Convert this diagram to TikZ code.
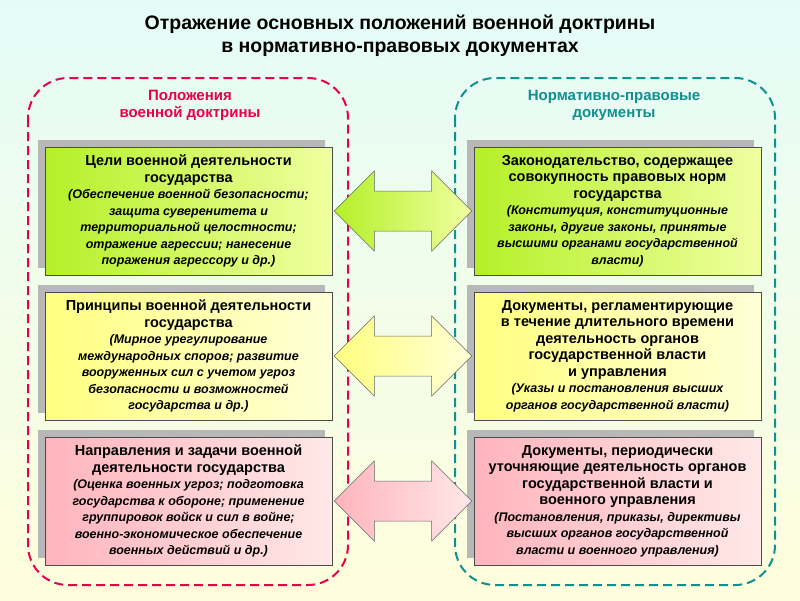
\documentclass[tikz,border=0pt]{standalone}
\usepackage{fontspec}
\setmainfont{Liberation Sans}
\usetikzlibrary{calc}
\definecolor{gA}{HTML}{B4F028}\definecolor{gB}{HTML}{F0FFA0}
\definecolor{yA}{HTML}{FFFF80}\definecolor{yB}{HTML}{FFFFD8}
\definecolor{pA}{HTML}{FFB4BC}\definecolor{pB}{HTML}{FFE8E8}
\definecolor{redh}{HTML}{E8004C}\definecolor{teal}{HTML}{109090}
\definecolor{bgA}{HTML}{E4FCF8}\definecolor{bgB}{HTML}{FFFEDC}
\tikzset{
 box/.style={draw=black!70,line width=0.6pt,minimum width=287pt,minimum height=128pt,align=center,inner sep=2pt,font=\fontsize{14.5}{16.5}\selectfont\bfseries},
 gbox/.style={box,left color=gA,right color=gB},
 ybox/.style={box,left color=yA,right color=yB},
 pbox/.style={box,left color=pA,right color=pB},
 darr/.style={draw=black!60,line width=0.5pt}
}
\newcommand{\sm}[1]{{\fontsize{12.5}{15}\selectfont\bfseries\itshape #1}}
\newcommand{\dblarrow}[4]{%
 \draw[darr,left color=#3,right color=#4] ($(#1.east)+(2,0)$) -- ++(40,-40) -- ++(0,20) coordinate (t1)
  -- ($(#2.west)+(-42,-20)$) -- ++(0,-20) -- ($(#2.west)+(-2,0)$) -- ++(-40,40) -- ++(0,-20)
  -- ($(#1.east)+(42,20)$) -- ++(0,20) -- cycle;}
\begin{document}
\begin{tikzpicture}[x=1pt,y=-1pt]
\useasboundingbox (0,0) rectangle (800,600);
\shade[top color=bgA,bottom color=bgB] (0,0) rectangle (800,600);
\node[font=\fontsize{19.5}{23}\selectfont\bfseries,align=center] (title) at (400,36) {Отражение основных положений военной доктрины\\в нормативно-правовых документах};
\draw[redh,line width=2pt,dash pattern=on 9pt off 5pt,rounded corners=40pt] (28,78) rectangle (348,585);
\draw[teal,line width=2pt,dash pattern=on 9pt off 5pt,rounded corners=40pt] (455,78) rectangle (775,585);
\node[text=redh,font=\fontsize{15}{17}\selectfont\bfseries,align=center] (hl) at (190,105) {Положения\\военной доктрины};
\node[text=teal,font=\fontsize{15}{17}\selectfont\bfseries,align=center] (hr) at (614,105) {Нормативно-правовые\\документы};
\foreach \x/\y in {38/140,38/285,38/430,467/140,467/285,467/430}{\fill[black!28] (\x,\y) rectangle ++(287,128);}
\node[gbox] (l1) at (188.5,211) {Цели военной деятельности\\государства\\\sm{(Обеспечение военной безопасности;}\\\sm{защита суверенитета и}\\\sm{территориальной целостности;}\\\sm{отражение агрессии;  нанесение}\\\sm{поражения агрессору  и др.)}};
\node[ybox] (l2) at (188.5,356) {Принципы военной деятельности\\государства\\\sm{(Мирное урегулирование}\\\sm{международных споров; развитие}\\\sm{вооруженных сил с учетом угроз}\\\sm{безопасности и возможностей}\\\sm{государства и др.)}};
\node[pbox] (l3) at (188.5,501) {Направления и задачи военной\\деятельности государства\\\sm{(Оценка военных угроз;  подготовка}\\\sm{государства к обороне; применение}\\\sm{группировок войск и сил в войне;}\\\sm{военно-экономическое обеспечение}\\\sm{военных действий и др.)}};
\node[gbox] (r1) at (617.5,211) {Законодательство, содержащее\\совокупность правовых норм\\государства\\\sm{(Конституция, конституционные}\\\sm{законы, другие законы, принятые}\\\sm{высшими органами государственной}\\\sm{власти)}};
\node[ybox] (r2) at (617.5,356) {Документы, регламентирующие\\в течение длительного времени\\деятельность органов\\государственной власти\\и управления\\\sm{(Указы и постановления высших}\\\sm{органов государственной власти)}};
\node[pbox] (r3) at (617.5,501) {Документы, периодически\\уточняющие деятельность органов\\государственной власти и\\военного управления\\\sm{(Постановления, приказы, директивы}\\\sm{высших органов государственной}\\\sm{власти и военного управления)}};
\dblarrow{l1}{r1}{gA}{gB}
\dblarrow{l2}{r2}{yA}{yB}
\dblarrow{l3}{r3}{pA}{pB}
\end{tikzpicture}
\end{document}
